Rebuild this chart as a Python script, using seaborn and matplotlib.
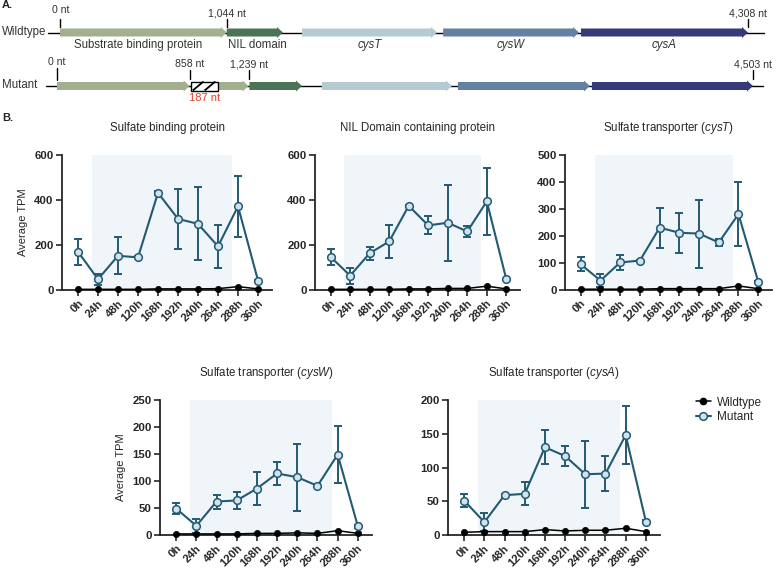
import pandas as pd
import matplotlib.pyplot as plt
import seaborn as sns
from matplotlib.patches import FancyArrow, Rectangle
from matplotlib.lines import Line2D

# ---- datos: diagrama del operon (en nt) ----
gene_names = ["Substrate binding protein", "NIL domain", "cysT", "cysW", "cysA"]
gene_colors = ["#a2b08f", "#4b7457", "#b5cbd3", "#6382a3", "#363a78"]
wt_starts = [0, 1044, 1515, 2399, 3262]
wt_ends = [1044, 1396, 2361, 3250, 4308]
mut_starts = [0, 1045, 1245, 1714, 2594, 3461]
mut_ends = [858, 1239, 1585, 2555, 3448, 4503]
mut_colors = ["#a2b08f", "#a2b08f", "#4b7457", "#b5cbd3", "#6382a3", "#363a78"]
insert_start, insert_len = 858, 187
wt_marks = [0, 1044, 4308]
mut_marks = [0, 858, 1239, 4503]

# ---- datos: TPM promedio ----
times = ['0h', '24h', '48h', '120h', '168h', '192h', '240h', '264h', '288h', '360h']

sbp_mut = [170, 48, 152, 145, 432, 316, 294, 194, 372, 42]
sbp_sd = [57, 25, 82, 4, 10, 135, 162, 95, 135, 4]
sbp_wt = [3, 3, 3, 3, 5, 5, 5, 6, 15, 5]

nil_mut = [147, 64, 163, 216, 374, 287, 299, 260, 394, 47]
nil_sd = [35, 36, 28, 73, 4, 40, 168, 26, 148, 3]
nil_wt = [3, 3, 3, 3, 5, 5, 7, 7, 17, 5]

cyst_mut = [95, 35, 102, 109, 231, 212, 209, 176, 281, 31]
cyst_sd = [26, 25, 28, 3, 74, 74, 126, 12, 118, 3]
cyst_wt = [3, 3, 3, 3, 5, 5, 5, 5, 15, 5]

cysw_mut = [49, 17, 62, 64, 86, 114, 107, 91, 149, 16]
cysw_sd = [10, 13, 13, 15, 30, 22, 62, 3, 52, 3]
cysw_wt = [2, 2, 2, 2, 3, 3, 4, 3, 8, 3]

cysa_mut = [51, 19, 59, 61, 130, 117, 90, 91, 148, 20]
cysa_sd = [10, 13, 2, 17, 25, 15, 50, 26, 43, 2]
cysa_wt = [4, 5, 5, 5, 8, 6, 7, 7, 10, 5]

titles = ["Sulfate binding protein", "NIL Domain containing protein",
          "Sulfate transporter ($\\it{cysT}$)", "Sulfate transporter ($\\it{cysW}$)",
          "Sulfate transporter ($\\it{cysA}$)"]

sns.set_theme(style="ticks")
plt.rcParams['font.family'] = ['Liberation Sans', 'DejaVu Sans']
plt.rcParams['mathtext.fontset'] = 'custom'
plt.rcParams['mathtext.it'] = 'Liberation Sans:italic'
plt.rcParams['mathtext.rm'] = 'Liberation Sans'

W, H = 777, 569
fig = plt.figure(figsize=(W / 100, H / 100), dpi=100)


def px_axes(l, t, r, b):
    return fig.add_axes([l / W, 1 - b / H, (r - l) / W, (b - t) / H])


# ---- A. diagrama ----
axd = fig.add_axes([0, 0, 1, 1])
axd.set_xlim(0, W)
axd.set_ylim(H, 0)
axd.axis('off')


def to_px(nt, x0, x1, total):
    return x0 + nt * (x1 - x0) / total


def gene_arrow(xa, xb, y, c):
    axd.add_patch(FancyArrow(xa, y, xb - xa, 0, width=8, head_width=11, head_length=6,
                             length_includes_head=True, color=c, lw=0, zorder=3))


# wildtype
yw = 32.5
axd.plot([48, 764], [yw, yw], color='black', lw=1, zorder=1)
for name, s, e, c in zip(gene_names, wt_starts, wt_ends, gene_colors):
    xa, xb = to_px(s, 60, 748, 4308), to_px(e, 60, 748, 4308)
    gene_arrow(xa, xb, yw, c)
    style = 'italic' if name.startswith('cys') else 'normal'
    xt = xa + 14 if name.startswith('Sub') else (xa + 1 if name.startswith('NIL') else (xa + xb) / 2)
    ha = 'left' if not name.startswith('cys') else 'center'
    axd.text(xt, 44.5, name, ha=ha, va='center', fontsize=8.3, style=style, color='#333333')
for m in wt_marks:
    xm = to_px(m, 60, 748, 4308)
    axd.plot([xm, xm], [19, 27], color='black', lw=1)
    lab = f"{m:,} nt"
    axd.text(xm if m else xm - 8, 13 if m else 10, lab, ha='center' if m else 'left',
             va='center', fontsize=7.6, color='#333333')
axd.text(2, yw - 1, "Wildtype", ha='left', va='center', fontsize=8.3, color='#333333')

# mutante
ym = 86
axd.plot([46, 763], [ym, ym], color='black', lw=1, zorder=1)
for s, e, c in zip(mut_starts, mut_ends, mut_colors):
    gene_arrow(to_px(s, 57, 753, 4503), to_px(e, 57, 753, 4503), ym, c)
ia = to_px(insert_start, 57, 753, 4503) + 1
ib = to_px(insert_start + insert_len, 57, 753, 4503) - 1
axd.add_patch(Rectangle((ia, ym - 4.5), ib - ia, 9, facecolor='white',
                        edgecolor='black', lw=1, zorder=4))
# rayado del inserto: dos diagonales
bw = ib - ia
for f0, f1 in [(0.08, 0.48), (0.52, 0.92)]:
    axd.plot([ia + f0 * bw, ia + f1 * bw], [ym + 4.5, ym - 4.5], color='black',
             lw=1.3, zorder=5, solid_capstyle='butt')
axd.text((ia + ib) / 2, 97.5, f"{insert_len} nt", ha='center', va='center',
         fontsize=8, color='#e8402a')
for m in mut_marks:
    xm = to_px(m, 57, 753, 4503)
    axd.plot([xm, xm], [70, 79] if m else [68, 80], color='black', lw=1)
    lab = f"{m:,} nt"
    axd.text(xm if m else xm - 9, 64 if m else 62, lab, ha='center' if m else 'left',
             va='center', fontsize=7.6, color='#333333')
axd.text(2, ym - 1, "Mutant", ha='left', va='center', fontsize=8.3, color='#333333')

axd.text(2, 5, "A.", ha='left', va='center', fontsize=8, fontweight='bold')
axd.text(2, 118, "B.", ha='left', va='center', fontsize=8, fontweight='bold')

# ---- B. graficos de TPM ----
teal = '#225a72'
light = '#d2e3ef'
paneles = [
    ((62, 155, 272, 290), sbp_mut, sbp_sd, sbp_wt, 600, 200, True),
    ((315, 155, 520, 290), nil_mut, nil_sd, nil_wt, 600, 200, False),
    ((565, 155, 772, 290), cyst_mut, cyst_sd, cyst_wt, 500, 100, False),
    ((160, 400, 372, 535), cysw_mut, cysw_sd, cysw_wt, 250, 50, True),
    ((448, 400, 660, 535), cysa_mut, cysa_sd, cysa_wt, 200, 50, False),
]

for (box, mut, sd, wt, ymax, step, ylab), title in zip(paneles, titles):
    ax = px_axes(*box)
    df = pd.DataFrame({
        'pos': list(range(len(times))) * 2,
        'tpm': mut + wt,
        'genotipo': ['Mutant'] * len(times) + ['Wildtype'] * len(times),
    })
    ax.axvspan(0.7, 7.7, ymax=1.02, color='#f0f5fa', lw=0, zorder=0)
    ax.errorbar(range(len(times)), mut, yerr=sd, fmt='none', ecolor=teal,
                elinewidth=1.4, capsize=3, capthick=1.4, zorder=2, clip_on=False)
    sns.lineplot(data=df[df['genotipo'] == 'Wildtype'], x='pos', y='tpm', ax=ax,
                 color='black', lw=1.1, marker='o', markersize=4.5,
                 markeredgecolor='black', markeredgewidth=0.5, errorbar=None,
                 legend=False, zorder=3, clip_on=False)
    sns.lineplot(data=df[df['genotipo'] == 'Mutant'], x='pos', y='tpm', ax=ax,
                 color=teal, lw=1.5, marker='o', markersize=5.5, markerfacecolor=light,
                 markeredgecolor=teal, markeredgewidth=1.1, errorbar=None,
                 legend=False, zorder=4, clip_on=False)
    ax.set_xlim(-0.8, 9.7)
    ax.set_ylim(0, ymax)
    ax.set_yticks(range(0, ymax + 1, step))
    ax.set_xticks(range(len(times)))
    ax.set_xticklabels(times, rotation=45, ha='right', rotation_mode='anchor')
    for lbl in ax.get_xticklabels() + ax.get_yticklabels():
        lbl.set_fontweight('bold')
        lbl.set_fontsize(8.2)
    ax.tick_params(length=4, width=1.2, pad=2)
    sns.despine(ax=ax)
    for s in ['left', 'bottom']:
        ax.spines[s].set_linewidth(1.3)
    ax.set_xlabel('')
    if ylab:
        ax.set_ylabel('Average TPM', fontsize=8)
        ax.yaxis.set_label_coords(-34 / (box[2] - box[0]), 0.5)
    else:
        ax.set_ylabel('')
    ax.set_title(title, fontsize=8.3, pad=17)

handles = [
    Line2D([], [], color='black', lw=1.1, marker='o', markersize=4.5),
    Line2D([], [], color=teal, lw=1.5, marker='o', markersize=5.5,
           markerfacecolor=light, markeredgecolor=teal, markeredgewidth=1.1),
]
fig.legend(handles, ['Wildtype', 'Mutant'], loc='upper left',
           bbox_to_anchor=(685 / W, 1 - 386 / H), frameon=False, fontsize=8.5,
           handlelength=1.3, handletextpad=0.5, labelspacing=0.2)

fig.savefig('out.png', dpi=100)
